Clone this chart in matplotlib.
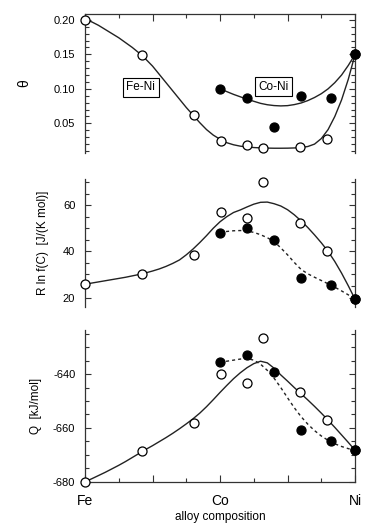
import numpy as np
import matplotlib
matplotlib.use("Agg")
import matplotlib.pyplot as plt
from matplotlib.ticker import MultipleLocator

plt.rcParams['font.family'] = ['Liberation Sans', 'DejaVu Sans']
plt.rcParams['axes.unicode_minus'] = False

# composition axis: Fe = 0, Co = 0.5, Ni = 1
x_feni = [0.0, 0.21, 0.405, 0.505, 0.60, 0.658, 0.795, 0.895, 1.0]
x_coni = [0.50, 0.60, 0.70, 0.80, 0.91, 1.0]

# theta
theta_feni = [0.200, 0.149, 0.062, 0.025, 0.019, 0.015, 0.016, 0.028, 0.150]
theta_coni = [0.100, 0.087, 0.045, 0.090, 0.087, 0.150]
# R ln f(C)
rlnf_feni = [25.8, 30.1, 38.4, 57.1, 54.3, 70.1, 52.4, 40.2, 19.3]
rlnf_coni = [48.1, 50.0, 44.9, 28.4, 25.5, 19.3]
# Q
q_feni = [-680.0, -668.7, -658.3, -640.1, -643.2, -626.7, -646.6, -657.1, -668.3]
q_coni = [-635.6, -632.9, -639.1, -660.8, -664.9, -668.3]

# fitted curves
cx_full = [0.0, 0.025, 0.05, 0.075, 0.1, 0.125, 0.15, 0.175, 0.2, 0.225,
           0.25, 0.275, 0.3, 0.325, 0.35, 0.375, 0.4, 0.425, 0.45, 0.475,
           0.5, 0.525, 0.55, 0.575, 0.6, 0.625, 0.65, 0.675, 0.7, 0.725,
           0.75, 0.775, 0.8, 0.825, 0.85, 0.875, 0.9, 0.925, 0.95, 0.975, 1.0]
cx_co = [0.5, 0.525, 0.55, 0.575, 0.6, 0.625, 0.65, 0.675, 0.7, 0.725,
         0.75, 0.775, 0.8, 0.825, 0.85, 0.875, 0.9, 0.925, 0.95, 0.975, 1.0]

theta_feni_fit = [0.200, 0.197, 0.192, 0.186, 0.180, 0.174, 0.167, 0.160, 0.152,
                  0.143, 0.133, 0.121, 0.109, 0.097, 0.085, 0.073, 0.062, 0.051,
                  0.041, 0.033, 0.027, 0.022, 0.019, 0.017, 0.0158, 0.015, 0.0145,
                  0.0142, 0.0140, 0.0140, 0.0141, 0.0144, 0.0150, 0.0165, 0.020,
                  0.028, 0.041, 0.060, 0.084, 0.114, 0.150]
theta_coni_fit = [0.100, 0.096, 0.092, 0.0885, 0.085, 0.082, 0.079, 0.077, 0.0758,
                  0.0753, 0.0757, 0.0772, 0.0795, 0.083, 0.0875, 0.093, 0.100,
                  0.109, 0.120, 0.134, 0.150]
rlnf_feni_fit = [25.8, 26.3, 26.8, 27.3, 27.8, 28.3, 28.8, 29.4, 30.0, 30.7,
                 31.5, 32.4, 33.5, 34.8, 36.3, 38.5, 41.0, 43.8, 46.8, 50.0,
                 52.8, 55.0, 56.8, 57.9, 59.2, 60.4, 61.2, 61.3, 60.6, 59.6,
                 58.0, 55.8, 53.2, 50.3, 47.1, 43.7, 40.0, 35.6, 30.6, 25.1, 19.3]
rlnf_coni_fit = [48.1, 48.6, 48.9, 49.0, 48.8, 48.2, 47.2, 45.9, 44.3, 41.5,
                 38.5, 35.2, 32.2, 30.3, 28.8, 27.4, 26.0, 24.5, 22.9, 21.2, 19.3]
q_feni_fit = [-680.0, -678.9, -677.7, -676.5, -675.2, -673.9, -672.5, -671.0,
              -669.5, -668.0, -666.6, -665.1, -663.6, -662.0, -660.3, -658.5,
              -656.6, -654.5, -652.1, -649.5, -646.8, -644.2, -641.7, -639.5,
              -637.6, -636.1, -635.2, -635.8, -637.8, -640.3, -642.6, -645.0,
              -647.3, -649.6, -652.0, -654.5, -657.1, -659.8, -662.6, -665.4, -668.3]
q_coni_fit = [-635.6, -635.2, -634.8, -634.4, -634.2, -634.8, -636.3, -638.6,
              -641.5, -645.0, -648.8, -652.5, -655.8, -658.6, -661.0, -663.0,
              -664.6, -665.9, -666.9, -667.7, -668.3]

fig = plt.figure(figsize=(3.82, 5.31), dpi=100)
left, width = 0.2225, 0.707
ax1 = fig.add_axes([left, 0.712, width, 0.262])
ax2 = fig.add_axes([left, 0.4225, width, 0.2405])
ax3 = fig.add_axes([left, 0.0928, width, 0.2857])

mk_open = dict(marker='o', ms=6.5, mfc='white', mec='black', mew=0.9, ls='none',
               zorder=3, clip_on=False)
mk_fill = dict(marker='o', ms=6.5, mfc='black', mec='black', mew=0.9, ls='none',
               zorder=3, clip_on=False)
dash = (0, (2.2, 2.2))
lc = '#222222'

# theta
ax1.plot(cx_full, theta_feni_fit, color=lc, lw=1.0)
ax1.plot(cx_co, theta_coni_fit, color=lc, lw=1.0)
ax1.plot(x_feni, theta_feni, **mk_open)
ax1.plot(x_coni, theta_coni, **mk_fill)
ax1.set_ylim(0.0072, 0.2087)
ax1.yaxis.set_minor_locator(MultipleLocator(0.01))
ax1.set_yticks([0.05, 0.10, 0.15, 0.20])
ax1.set_yticklabels(['0.05', '0.10', '0.15', '0.20'])
ax1.set_ylabel('θ', fontsize=10)
ax1.yaxis.set_label_coords(-0.2, 0.5)
box = dict(boxstyle='square,pad=0.3', fc='white', ec='black', lw=0.8)
ax1.text(0.207, 0.102, 'Fe-Ni', fontsize=8.5, ha='center', va='center', bbox=box)
ax1.text(0.699, 0.103, 'Co-Ni', fontsize=8.5, ha='center', va='center', bbox=box)

# R ln f(C)
ax2.plot(cx_full, rlnf_feni_fit, color=lc, lw=1.0)
ax2.plot(cx_co, rlnf_coni_fit, color=lc, lw=1.0, ls=dash)
ax2.plot(x_feni, rlnf_feni, **mk_open)
ax2.plot(x_coni, rlnf_coni, **mk_fill)
ax2.set_ylim(16.1, 71.3)
ax2.yaxis.set_major_locator(MultipleLocator(20))
ax2.yaxis.set_minor_locator(MultipleLocator(5))
ax2.set_ylabel('R ln f(C)  [J/(K mol)]', fontsize=8.5)
ax2.yaxis.set_label_coords(-0.135, 0.5)

# Q
ax3.plot(cx_full, q_feni_fit, color=lc, lw=1.0)
ax3.plot(cx_co, q_coni_fit, color=lc, lw=1.0, ls=dash)
ax3.plot(x_feni, q_feni, **mk_open)
ax3.plot(x_coni, q_coni, **mk_fill)
ax3.set_ylim(-680, -623.6)
ax3.yaxis.set_major_locator(MultipleLocator(20))
ax3.yaxis.set_minor_locator(MultipleLocator(5))
ax3.set_ylabel('Q  [kJ/mol]', fontsize=8.5)
ax3.yaxis.set_label_coords(-0.16, 0.5)
ax3.set_xlabel('alloy composition', fontsize=8.5, labelpad=2)

for ax in (ax1, ax2, ax3):
    ax.set_xlim(0, 1)
    for s in ax.spines.values():
        s.set_linewidth(0.9)
        s.set_color('#333333')
    ax.spines['top'].set_visible(ax is ax1)
    ax.spines['bottom'].set_visible(ax is ax3)
    ax.set_xticks([0, 0.25, 0.5, 0.75, 1.0])
    ax.xaxis.set_minor_locator(MultipleLocator(0.125))
    ax.tick_params(axis='y', which='both', direction='in', left=True, right=True,
                   labelsize=8, width=0.8, color='#333333', pad=7)
    ax.tick_params(axis='y', which='major', length=4)
    ax.tick_params(axis='y', which='minor', length=3)
    ax.tick_params(axis='x', which='both', direction='in', width=0.8, color='#333333',
                   top=(ax is ax1), bottom=(ax is ax3),
                   labelbottom=(ax is ax3), labeltop=False)
    ax.tick_params(axis='x', which='major', length=5)
    ax.tick_params(axis='x', which='minor', length=3)
    ax.patch.set_alpha(0)

ax3.set_xticklabels(['Fe', '', 'Co', '', 'Ni'], fontsize=10)
ax3.tick_params(axis='x', which='major', pad=9)

plt.savefig("out.png", dpi=100)
